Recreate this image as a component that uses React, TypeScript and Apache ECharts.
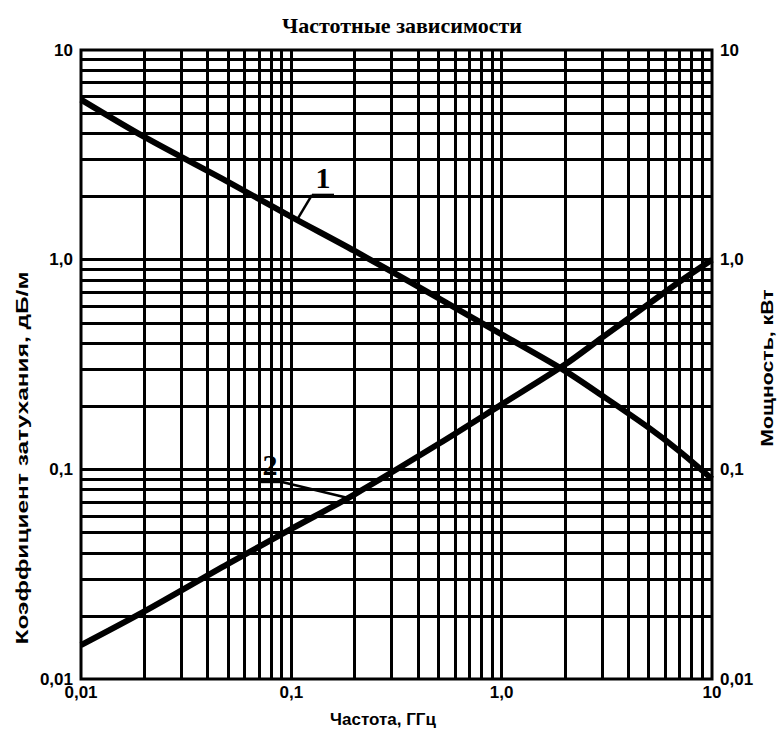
import React, { useEffect, useRef } from "react";
import * as echarts from "echarts";

const TITLE = "Частотные зависимости";
const X_NAME = "Частота, ГГц";
const Y_LEFT_NAME = "Коэффициент затухания, дБ/м";
const Y_RIGHT_NAME = "Мощность, кВт";

const frequency = [0.01, 0.02, 0.05, 0.1, 0.2, 0.5, 1, 2, 3, 5, 7, 10];
const attenuation = [5.8, 3.85, 2.35, 1.6, 1.1, 0.655, 0.44, 0.295, 0.225, 0.158, 0.122, 0.09];
const power = [0.0145, 0.021, 0.0354, 0.052, 0.076, 0.132, 0.204, 0.316, 0.425, 0.615, 0.785, 1.0];

const tickLabels: Record<string, string> = { "-2": "0,01", "-1": "0,1", "0": "1,0", "1": "10" };
const decades = [0.01, 0.1, 1];
const multipliers = [1, 2, 3, 4, 5, 6, 7, 8, 9];

const curveLabels = [
  { text: "1", series: 0, anchorX: 0.1064 },
  { text: "2", series: 1, anchorX: 0.186 },
];

const fmt = (v: number) => tickLabels[String(Math.round(Math.log10(v)))] ?? "";

function interpLog(xs: number[], ys: number[], x: number) {
  const lx = Math.log10(x);
  for (let i = 0; i < xs.length - 1; i++) {
    const a = Math.log10(xs[i]);
    const b = Math.log10(xs[i + 1]);
    if (lx >= a && lx <= b) {
      const t = (lx - a) / (b - a);
      return Math.pow(10, Math.log10(ys[i]) + t * (Math.log10(ys[i + 1]) - Math.log10(ys[i])));
    }
  }
  return ys[ys.length - 1];
}

export default function App() {
  const ref = useRef<HTMLDivElement>(null);
  useEffect(() => {
    document.body.style.margin = "0";
    if (!ref.current) return;
    const chart = echarts.init(ref.current, undefined, { renderer: "svg" });
    const gridVals: number[] = [];
    decades.forEach((d) => multipliers.forEach((m) => gridVals.push(+(d * m).toPrecision(3))));
    const inner = gridVals.filter((v) => v > 0.01 && v < 10);
    const lineStyleGrid = { color: "#000", width: 3, type: "solid" as const };
    const axisLabel = {
      fontFamily: "Liberation Sans",
      fontWeight: "bold" as const,
      fontSize: 17,
      color: "#000",
      formatter: fmt,
    };
    const series1 = frequency.map((f, i) => [f, attenuation[i]]);
    const series2 = frequency.map((f, i) => [f, power[i]]);
    chart.setOption({
      animation: false,
      backgroundColor: "#fff",
      title: {
        text: TITLE,
        left: 397,
        top: 9,
        textAlign: "center",
        textStyle: { fontFamily: "Liberation Serif", fontWeight: "bold", fontSize: 22, color: "#000" },
      },
      grid: { left: 81, right: 66, top: 50, bottom: 54, show: true, borderWidth: 3, borderColor: "#000", backgroundColor: "#fff" },
      xAxis: {
        type: "log",
        logBase: 10,
        min: 0.01,
        max: 10,
        axisLine: { show: false },
        axisTick: { show: false },
        splitLine: { show: false },
        axisLabel: { ...axisLabel, margin: 5 },
      },
      yAxis: [
        {
          type: "log",
          logBase: 10,
          min: 0.01,
          max: 10,
          position: "left",
          axisLine: { show: false },
          axisTick: { show: false },
          splitLine: { show: false },
          axisLabel: { ...axisLabel, margin: 8 },
        },
        {
          type: "log",
          logBase: 10,
          min: 0.01,
          max: 10,
          position: "right",
          axisLine: { show: false },
          axisTick: { show: false },
          splitLine: { show: false },
          axisLabel: { ...axisLabel, margin: 8 },
        },
      ],
      series: [
        {
          type: "line",
          name: "1",
          data: series1,
          smooth: 0.3,
          symbol: "none",
          lineStyle: { color: "#000", width: 6 },
          z: 5,
          markLine: {
            silent: true,
            symbol: "none",
            animation: false,
            label: { show: false },
            lineStyle: lineStyleGrid,
            data: [...inner.map((v) => ({ xAxis: v })), ...inner.map((v) => ({ yAxis: v }))],
            z: 1,
          },
        },
        {
          type: "line",
          name: "2",
          data: series2,
          smooth: 0.3,
          symbol: "none",
          lineStyle: { color: "#000", width: 6 },
          z: 5,
        },
      ],
      graphic: [],
    });

    const graphics: any[] = [];
    curveLabels.forEach((cl) => {
      const ys = cl.series === 0 ? attenuation : power;
      const y = interpLog(frequency, ys, cl.anchorX);
      const p = chart.convertToPixel({ gridIndex: 0 }, [cl.anchorX, y]) as number[];
      let start: number[], ul0: number[], ul1: number[];
      if (cl.series === 0) {
        start = [p[0] + 15, p[1] - 25];
        ul0 = start;
        ul1 = [start[0] + 22, start[1]];
      } else {
        start = [p[0] - 66, p[1] - 16];
        ul0 = [start[0] - 24, start[1]];
        ul1 = start;
      }
      graphics.push({
        type: "polyline",
        shape: { points: [p, start] },
        style: { stroke: "#000", lineWidth: 2.5, fill: "none" },
        z: 10,
      });
      graphics.push({
        type: "line",
        shape: { x1: ul0[0], y1: ul0[1], x2: ul1[0], y2: ul1[1] },
        style: { stroke: "#000", lineWidth: 2.5 },
        z: 10,
      });
      graphics.push({
        type: "text",
        x: (ul0[0] + ul1[0]) / 2,
        y: ul0[1] - 2,
        style: {
          text: cl.text,
          fontFamily: "Liberation Serif",
          fontWeight: "bold",
          fontSize: 30,
          fill: "#000",
          align: "center",
          verticalAlign: "bottom",
        },
        z: 10,
      });
    });
    const nameStyle = { fontFamily: "Liberation Sans", fontWeight: "bold", fontSize: 17, fill: "#000", align: "center", verticalAlign: "middle" };
    graphics.push({ type: "text", x: 383, y: 719, style: { ...nameStyle, text: X_NAME } });
    graphics.push({ type: "text", x: 22, y: 458, rotation: Math.PI / 2, scaleX: 1.44, style: { ...nameStyle, text: Y_LEFT_NAME } });
    graphics.push({ type: "text", x: 767, y: 368, rotation: Math.PI / 2, scaleX: 1.25, style: { ...nameStyle, text: Y_RIGHT_NAME } });
    chart.setOption({ graphic: graphics });
    return () => chart.dispose();
  }, []);
  return <div ref={ref} style={{ width: 778, height: 733 }} />;
}
